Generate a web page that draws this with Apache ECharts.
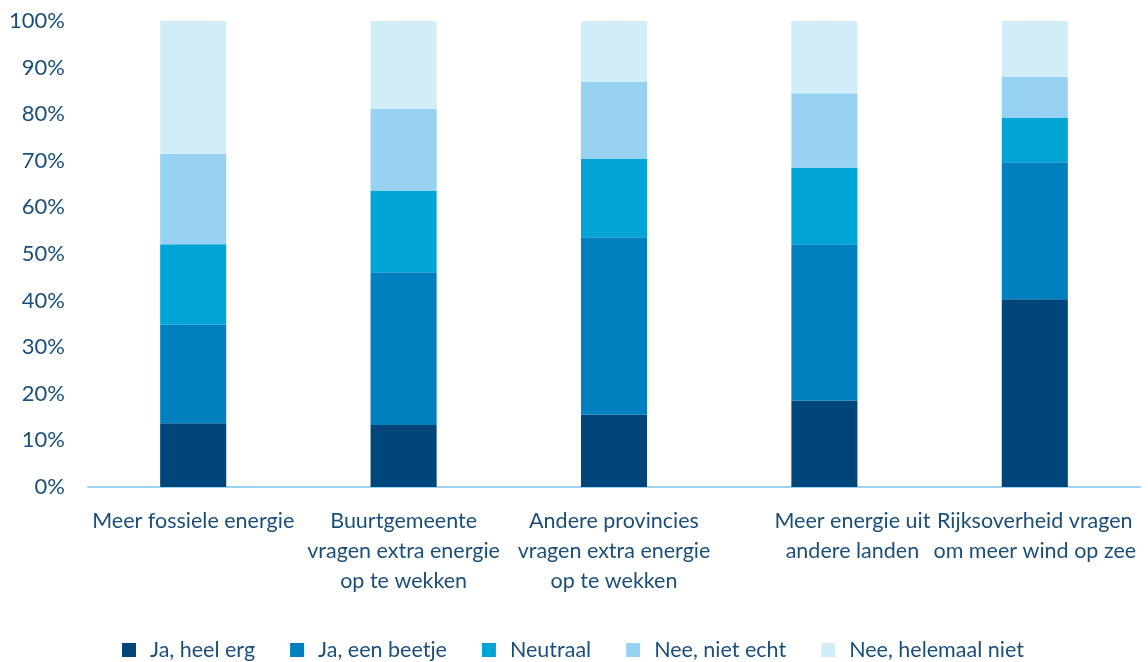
<!DOCTYPE html>
<html>
<head>
<meta charset="utf-8">
<script src="https://cdn.jsdelivr.net/npm/echarts@6/dist/echarts.min.js"></script>
<style>
  html, body { margin: 0; padding: 0; background: #ffffff; }
  #chart { width: 1148px; height: 662px; }
</style>
</head>
<body>
<div id="chart"></div>
<script>
// Categories (statements) and answer shares in percent, bottom to top
const categories = [
  'Meer fossiele energie',
  'Buurtgemeente\nvragen extra energie\nop te wekken',
  'Andere provincies\nvragen extra energie\nop te wekken',
  'Meer energie uit\nandere landen',
  'Rijksoverheid vragen\nom meer wind op zee'
];
const seriesNames = ['Ja, heel erg', 'Ja, een beetje', 'Neutraal', 'Nee, niet echt', 'Nee, helemaal niet'];
const jaHeelErg       = [13.7, 13.3, 15.5, 18.5, 40.3];
const jaEenBeetje     = [21.1, 32.8, 38.1, 33.6, 29.4];
const neutraal        = [17.3, 17.4, 16.8, 16.4, 9.5];
const neeNietEcht     = [19.4, 17.6, 16.5, 16.0, 8.8];
const neeHelemaalNiet = [28.5, 18.9, 13.1, 15.5, 12.0];
const yTicks = { min: 0, max: 100, interval: 10 };

const colors = ['#00467a', '#0080be', '#00a5d6', '#98d2f2', '#d1edf7'];
const textColor = '#1b4f7a';
const fontFamily = 'Lato, "Open Sans", sans-serif';

const values = [jaHeelErg, jaEenBeetje, neutraal, neeNietEcht, neeHelemaalNiet];

const chart = echarts.init(document.getElementById('chart'), null, { renderer: 'canvas' });
chart.setOption({
  animation: false,
  color: colors,
  textStyle: { fontFamily: fontFamily },
  grid: { left: 88, right: 8, top: 21, bottom: 175, containLabel: false },
  legend: {
    top: 634,
    left: 117,
    itemWidth: 14,
    itemHeight: 14,
    itemGap: 35,
    icon: 'rect',
    textStyle: { color: textColor, fontSize: 21.5, fontFamily: fontFamily, padding: [0, 0, 0, 9] },
    data: seriesNames
  },
  xAxis: {
    type: 'category',
    data: categories,
    axisLine: { lineStyle: { color: '#9dd3f0', width: 2 } },
    axisTick: { show: false },
    axisLabel: {
      interval: 0,
      margin: 19,
      color: textColor,
      fontSize: 21.5,
      lineHeight: 30,
      fontFamily: fontFamily,
      formatter: function (v, i) {
        return i === 3 ? v.split('\n').map(function (s) { return '{s|' + s + '}'; }).join('\n') : v;
      },
      rich: {
        s: { color: textColor, fontSize: 21.5, lineHeight: 30, fontFamily: fontFamily, padding: [0, 0, 0, 56] }
      }
    }
  },
  yAxis: {
    type: 'value',
    min: yTicks.min,
    max: yTicks.max,
    interval: yTicks.interval,
    splitLine: { show: false },
    axisLine: { show: false },
    axisTick: { show: false },
    axisLabel: {
      margin: 23,
      color: textColor,
      fontSize: 22,
      fontFamily: fontFamily,
      formatter: '{value}%'
    }
  },
  series: seriesNames.map(function (name, k) {
    return {
      name: name,
      type: 'bar',
      stack: 'total',
      barWidth: '31.4%',
      data: values[k]
    };
  })
});
</script>
</body>
</html>
